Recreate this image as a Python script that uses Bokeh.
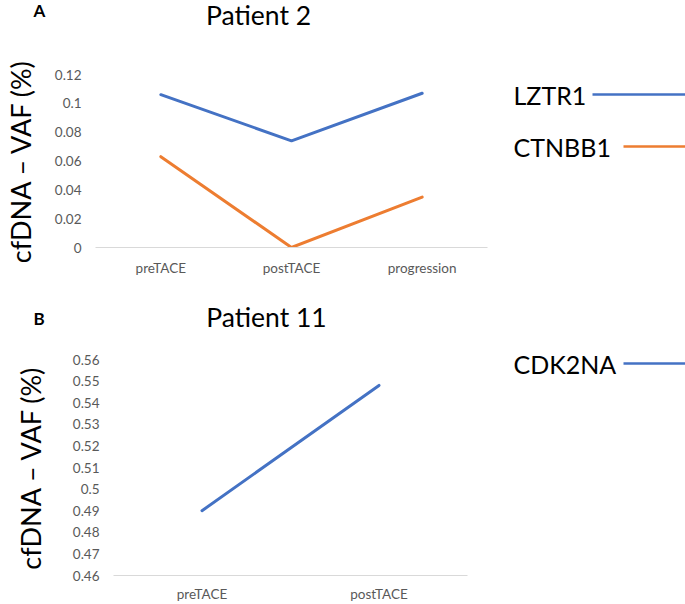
from bokeh.plotting import figure
from bokeh.layouts import column, row
from bokeh.models import (Range1d, FactorRange, FixedTicker, Label,
                          CustomJSTickFormatter)
from bokeh.core.properties import value
from bokeh.embed import file_html
from bokeh.resources import INLINE

# panel A - patient 2
stages_a = ["preTACE", "postTACE", "progression"]
lztr1 = [0.106, 0.074, 0.107]
ctnbb1 = [0.063, 0.0, 0.035]
yticks_a = [0, 0.02, 0.04, 0.06, 0.08, 0.1, 0.12]

# panel B - patient 11
stages_b = ["preTACE", "postTACE"]
cdk2na = [0.490, 0.548]
yticks_b = [0.46, 0.47, 0.48, 0.49, 0.5, 0.51, 0.52, 0.53, 0.54, 0.55, 0.56]

genes_a = ["LZTR1", "CTNBB1"]
genes_b = ["CDK2NA"]

BLUE = "#4472C4"
ORANGE = "#ED7D31"
FONT = "Lato"
TICK_GREY = "#595959"
YLABEL = "cfDNA \u2013 VAF (%)"

fmt = CustomJSTickFormatter(code="return String(Number(tick.toFixed(2)));")


def bare_fig(width, height):
    f = figure(x_range=Range1d(0, width), y_range=Range1d(0, height),
               width=width, height=height, min_border=0,
               x_axis_location=None, y_axis_location=None,
               toolbar_location=None, output_backend="svg")
    f.outline_line_color = None
    f.grid.visible = False
    return f


def make_header(letter, title, width, height, tx, ty, lx, ly):
    h = bare_fig(width, height)
    h.add_layout(Label(x=tx, y=ty, text=title, text_align="center",
                       text_baseline="alphabetic", text_font=FONT,
                       text_font_size="26.5px", text_color="black"))
    h.add_layout(Label(x=lx, y=ly, text=letter, text_align="left",
                       text_baseline="alphabetic", text_font=FONT,
                       text_font_size="17px", text_font_style="bold",
                       text_color="black"))
    return h


def make_plot(stages, ticks, width, height, left, right, top, bottom,
              xstand, ystand):
    p = figure(x_range=FactorRange(*stages),
               y_range=Range1d(ticks[0], ticks[-1]),
               width=width, height=height,
               min_border_left=left, min_border_right=right,
               min_border_top=top, min_border_bottom=bottom,
               toolbar_location=None, output_backend="svg")
    p.outline_line_color = None
    p.xgrid.visible = False
    p.ygrid.visible = False

    for ax in (p.xaxis, p.yaxis):
        ax.major_tick_out = 0
        ax.major_tick_in = 0
        ax.minor_tick_out = 0
        ax.minor_tick_in = 0
        ax.major_tick_line_color = None
        ax.minor_tick_line_color = None
        ax.major_label_text_font = FONT
        ax.major_label_text_font_size = "13.5px"
        ax.major_label_text_color = TICK_GREY

    p.yaxis.ticker = FixedTicker(ticks=ticks)
    p.yaxis.formatter = fmt
    p.yaxis.axis_line_color = None
    p.yaxis.major_label_standoff = 14
    p.yaxis.axis_label = YLABEL
    p.yaxis.axis_label_text_font = FONT
    p.yaxis.axis_label_text_font_size = "27px"
    p.yaxis.axis_label_text_font_style = "normal"
    p.yaxis.axis_label_text_color = "black"
    p.yaxis.axis_label_standoff = ystand

    p.xaxis.axis_line_color = "#D9D9D9"
    p.xaxis.axis_line_width = 1
    p.xaxis.major_label_standoff = xstand
    return p


def make_legend(names, colors, ys, line_x0, width, height):
    lg = bare_fig(width, height)
    lg.text(x=[13] * len(names), y=ys, text=names, text_font=value(FONT),
            text_font_size="25px", text_baseline="middle", text_color="black")
    lg.segment(x0=line_x0, y0=ys, x1=[width + 10] * len(names), y1=ys,
               line_color=colors, line_width=2.5)
    return lg


# ---- panel A
ha = make_header("A", "Patient 2", 500, 40, 258, 26, 33, 30)
pa = make_plot(stages_a, yticks_a, 500, 260, 94, 13, 34, 53, 12, 15)
pa.line(stages_a, lztr1, line_color=BLUE, line_width=3, line_cap="round", line_join="round")
pa.line(stages_a, ctnbb1, line_color=ORANGE, line_width=3, line_cap="round", line_join="round")
la = make_legend(genes_a, [BLUE, ORANGE], [206, 154], [92, 123], 185, 300)

# ---- panel B
hb = make_header("B", "Patient 11", 500, 40, 266, 24, 33, 22)
pb = make_plot(stages_b, yticks_b, 500, 264, 113, 33, 19, 27, 10, 23)
pb.line(stages_b, cdk2na, line_color=BLUE, line_width=3, line_cap="round")
lb = make_legend(genes_b, [BLUE], [241], [123], 185, 304)

# headers are wrapped in a row so their frames are not aligned to the plots
layout = column(row(column(row(ha), pa), la), row(column(row(hb), pb), lb))

open("out.html", "w").write(file_html(layout, INLINE))
